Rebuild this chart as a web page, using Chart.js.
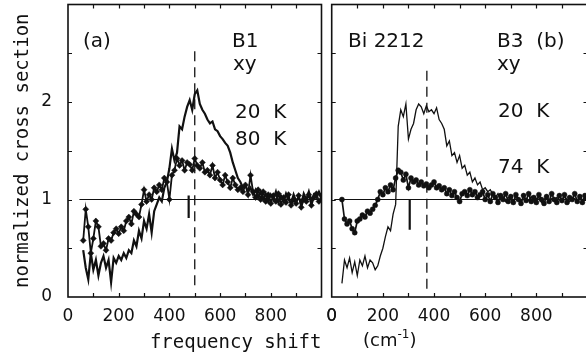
<!DOCTYPE html>
<html>
<head>
<meta charset="utf-8">
<script src="https://cdn.jsdelivr.net/npm/chart.js@4/dist/chart.umd.min.js"></script>
<style>
  html, body { margin: 0; padding: 0; background: #fff; width: 586px; height: 357px; overflow: hidden; }
  #wrap { position: relative; width: 586px; height: 357px; overflow: hidden; }
  canvas { position: absolute; top: 0; }
  #ca { left: 0px; }
  #cb { left: 326px; }
</style>
</head>
<body>
<div id="wrap">
  <canvas id="ca" width="326" height="357"></canvas>
  <canvas id="cb" width="266" height="357"></canvas>
</div>
<script>
// ---------- DATA ----------
// Panel (a): B1, xy, frequency shift (cm^-1)
const freqA = [60,70,80,90,100,110,120,130,140,150,
  160,170,180,190,200,210,220,230,240,250,
  260,270,280,290,300,310,320,330,340,350,
  360,370,380,390,400,410,420,430,440,450,
  460,470,480,490,500,510,520,530,540,550,
  560,570,580,590,600,610,620,630,640,650,
  660,670,680,690,700,710,720,730,740,750,
  760,770,780,790,800,810,820,830,840,850,
  860,870,880,890,900,910,920,930,940,950,
  960,970,980,990,1000];
const a20K = [0.48,0.30,0.18,0.45,0.28,0.38,0.22,0.35,0.42,0.30,
  0.38,0.15,0.40,0.35,0.42,0.38,0.45,0.40,0.48,0.45,
  0.58,0.52,0.68,0.60,0.78,0.70,0.85,0.66,0.88,0.95,
  1.02,0.98,1.12,1.18,1.32,1.52,1.40,1.48,1.75,1.72,
  1.85,1.95,2.02,1.92,2.08,2.12,1.98,1.92,1.88,1.82,
  1.78,1.80,1.72,1.70,1.65,1.62,1.58,1.55,1.48,1.38,
  1.30,1.22,1.18,1.12,1.15,1.08,1.12,1.05,1.10,1.02,
  1.08,1.00,1.06,0.98,1.05,1.00,1.08,0.97,1.04,0.98,
  1.06,1.00,0.96,1.05,0.98,1.03,0.95,1.06,1.00,1.08,
  0.98,1.05,1.02,1.08,1.02];
const a80K = [0.58,0.90,0.72,0.45,0.60,0.78,0.72,0.52,0.55,0.48,
  0.60,0.58,0.66,0.70,0.65,0.72,0.68,0.78,0.82,0.75,
  0.88,0.85,0.82,0.95,1.10,0.98,1.05,1.00,1.12,1.08,
  1.15,1.10,1.22,1.18,1.00,1.25,1.30,1.42,1.35,1.40,
  1.30,1.38,1.36,1.30,1.42,1.35,1.32,1.38,1.28,1.30,
  1.25,1.35,1.22,1.28,1.20,1.15,1.25,1.18,1.12,1.22,
  1.15,1.10,1.12,1.08,1.15,1.05,1.25,1.08,1.02,1.10,
  1.00,1.08,0.98,1.05,0.96,1.04,0.98,1.06,0.95,1.02,
  0.97,1.05,0.94,1.00,0.96,1.04,0.92,1.00,0.98,1.05,
  0.94,1.02,1.06,0.98,1.04];

// Panel (b): Bi 2212, B3, xy
const freqB = [40,50,60,70,80,90,100,110,120,130,
  140,150,160,170,180,190,200,210,220,230,
  240,250,260,270,280,290,300,310,320,330,
  340,350,360,370,380,390,400,410,420,430,
  440,450,460,470,480,490,500,510,520,530,
  540,550,560,570,580,590,600,610,620,630,
  640,650,660,670,680,690,700,710,720,730,
  740,750,760,770,780,790,800,810,820,830,
  840,850,860,870,880,890,900,910,920,930,
  940,950,960,970,980,990,1000];
const b20K = [0.14,0.38,0.30,0.40,0.25,0.36,0.22,0.38,0.32,0.42,
  0.30,0.38,0.35,0.28,0.32,0.42,0.50,0.62,0.72,0.68,
  0.85,0.95,1.75,1.92,1.85,1.98,1.62,1.72,1.78,1.92,
  1.98,1.95,1.88,1.96,1.90,1.92,1.88,1.94,1.82,1.78,
  1.72,1.55,1.60,1.45,1.48,1.38,1.45,1.32,1.35,1.25,
  1.28,1.18,1.22,1.15,1.18,1.10,1.12,1.08,1.10,1.05,
  1.02,1.06,1.00,1.03,0.98,1.02,1.00,0.97,1.03,1.01,
  0.98,1.02,1.00,0.99,1.03,0.98,1.01,1.02,0.97,1.00,
  1.03,0.99,1.01,0.98,1.02,1.00,0.97,1.03,1.00,0.98,
  1.02,1.01,0.99,1.02,1.00,1.01,0.98];
const b74K = [1.00,0.80,0.75,0.78,0.70,0.66,0.78,0.80,0.84,0.82,
  0.88,0.86,0.90,0.94,1.00,1.08,1.05,1.12,1.08,1.15,
  1.10,1.22,1.30,1.28,1.20,1.26,1.12,1.22,1.18,1.20,
  1.15,1.18,1.14,1.16,1.12,1.15,1.18,1.12,1.14,1.10,
  1.12,1.06,1.10,1.04,1.08,1.02,0.98,1.06,1.08,1.04,
  1.10,1.05,1.08,1.02,1.05,1.08,1.00,1.05,0.98,1.06,
  1.02,0.97,1.04,1.00,1.06,0.98,1.03,0.97,1.05,1.00,
  0.96,1.04,0.99,1.06,0.98,1.02,0.97,1.05,1.00,0.96,
  1.03,0.98,1.06,1.00,0.97,1.04,0.99,1.05,0.97,1.02,
  1.00,1.06,0.98,1.03,0.97,1.04,1.01];

// reference marks (frequency / level values)
const peakA = 500, peakB = 372;          // dashed lines
const gapA = 476, gapB = 305;            // short solid bars
const unityLevel = 1;
const xTickLabels = [0, 200, 400, 600, 800];
const yTickLabels = [0, 1, 2];

// ---------- HELPERS ----------
const pts = (xs, ys) => xs.map((x, i) => ({ x: x, y: ys[i] }));
const BLACK = '#111';

const framePlugin = {
  id: 'frame',
  afterDatasetsDraw(chart) {
    const { ctx, chartArea: ca, scales } = chart;
    ctx.save();
    ctx.strokeStyle = BLACK;
    ctx.lineWidth = 1.6;
    ctx.strokeRect(ca.left, ca.top, ca.right - ca.left, ca.bottom - ca.top);
    ctx.lineWidth = 1.2;
    const tl = 4;
    scales.x.ticks.forEach(t => {
      if (t.value <= scales.x.min || t.value >= scales.x.max) return;
      const px = Math.round(scales.x.getPixelForValue(t.value)) + 0.5;
      ctx.beginPath();
      ctx.moveTo(px, ca.bottom); ctx.lineTo(px, ca.bottom - tl);
      ctx.moveTo(px, ca.top); ctx.lineTo(px, ca.top + tl);
      ctx.stroke();
    });
    scales.y.ticks.forEach(t => {
      if (t.value <= scales.y.min || t.value >= scales.y.max) return;
      const py = Math.round(scales.y.getPixelForValue(t.value)) + 0.5;
      ctx.beginPath();
      ctx.moveTo(ca.left, py); ctx.lineTo(ca.left + tl, py);
      ctx.moveTo(ca.right, py); ctx.lineTo(ca.right - tl, py);
      ctx.stroke();
    });
    ctx.restore();
  }
};

// re-draws the first x tick label of a scale from the scale's own label item (edge label)
const edgeLabelPlugin = {
  id: 'edgeLabel',
  afterDraw(chart) {
    const xs = chart.scales.x;
    const items = xs.getLabelItems();
    if (!items.length) return;
    const it = items[0];
    if (!it.label) return;
    const ctx = chart.ctx;
    ctx.save();
    ctx.fillStyle = BLACK;
    ctx.font = it.font.string;
    ctx.textAlign = 'center';
    ctx.textBaseline = it.options.textBaseline || 'middle';
    const off = (typeof it.textOffset === 'number') ? it.textOffset : it.font.lineHeight / 2;
    ctx.fillText(String(it.label), xs.getPixelForValue(xs.ticks[0].value), it.options.translation[1] + off);
    ctx.restore();
  }
};

// text runs: each item is a list of [text, font, dy] pieces drawn one after another
function textPlugin(items) {
  return {
    id: 'texts',
    afterDraw(chart) {
      const ctx = chart.ctx;
      ctx.save();
      ctx.fillStyle = BLACK;
      ctx.textBaseline = 'alphabetic';
      ctx.textAlign = 'left';
      items.forEach(it => {
        let x = it.x;
        const runs = it.runs || [[it.t, it.font || '20px "DejaVu Sans"', 0]];
        runs.forEach(([s, f, dy]) => {
          ctx.font = f;
          ctx.fillText(s, x, it.y + dy);
          x += ctx.measureText(s).width;
        });
      });
      ctx.restore();
    }
  };
}

function xScale(title) {
  return {
    type: 'linear', min: 0, max: 1000,
    grid: { display: false, drawTicks: false },
    border: { display: false },
    afterFit(s) { s.height = 60; s.paddingLeft = 0; s.paddingRight = 0; },
    ticks: {
      stepSize: 100, autoSkip: false, maxRotation: 0, padding: 9,
      color: BLACK, font: { family: 'DejaVu Sans', size: 17 },
      callback: v => (xTickLabels.includes(v) ? String(v) : '')
    },
    title: title
  };
}

const baseOptions = (padRight) => ({
  responsive: false,
  animation: false,
  devicePixelRatio: 1,
  layout: { padding: { left: 0, right: padRight, top: 3, bottom: 0 } },
  plugins: { legend: { display: false }, tooltip: { enabled: false } },
  elements: { line: { tension: 0 } }
});

// ---------- PANEL (a) ----------
const optA = baseOptions(3);
optA.scales = {
  x: xScale({ display: true, text: 'frequency shift', align: 'end', color: BLACK,
    font: { family: 'DejaVu Sans Mono', size: 19 }, padding: { top: 4, bottom: 3 } }),
  y: {
    min: 0, max: 3,
    grid: { display: false, drawTicks: false },
    border: { display: false },
    afterFit(s) { s.width = 68; s.paddingTop = 0; s.paddingBottom = 0; },
    ticks: {
      stepSize: 0.5, autoSkip: false, padding: 16,
      color: BLACK, font: { family: 'DejaVu Sans', size: 17 },
      callback: v => (yTickLabels.includes(v) ? String(v) : '')
    },
    title: { display: true, text: 'normalized cross section', color: BLACK,
      font: { family: 'DejaVu Sans Mono', size: 19 }, padding: { top: 12, bottom: 0 } }
  }
};
new Chart(document.getElementById('ca'), {
  type: 'line',
  data: {
    datasets: [
      { data: [{ x: 45, y: unityLevel }, { x: 1000, y: unityLevel }], borderColor: BLACK, borderWidth: 1, pointRadius: 0 },
      { data: [{ x: peakA, y: 2.52 }, { x: peakA, y: 0.07 }], borderColor: BLACK, borderWidth: 1.3, borderDash: [10, 6], pointRadius: 0 },
      { data: [{ x: gapA, y: 1.04 }, { x: gapA, y: 0.81 }], borderColor: BLACK, borderWidth: 2.2, pointRadius: 0 },
      { label: '20 K', data: pts(freqA, a20K), borderColor: BLACK, borderWidth: 2.2, pointRadius: 0 },
      { label: '80 K', data: pts(freqA, a80K), borderColor: BLACK, borderWidth: 1.8,
        pointStyle: 'rectRot', pointRadius: 3, pointBackgroundColor: BLACK, pointBorderColor: BLACK, pointBorderWidth: 0.5 }
    ]
  },
  options: optA,
  plugins: [framePlugin, textPlugin([
    { t: '(a)', x: 83, y: 47 },
    { t: 'B1', x: 232, y: 47 },
    { t: 'xy', x: 233, y: 70 },
    { t: '20  K', x: 235, y: 118 },
    { t: '80  K', x: 235, y: 145 }
  ])]
});

// ---------- PANEL (b) ----------
const optB = baseOptions(3);
optB.scales = {
  x: xScale({ display: false }),
  y: {
    min: 0, max: 3,
    grid: { display: false, drawTicks: false },
    border: { display: false },
    afterFit(s) { s.width = 5.7; s.paddingTop = 0; s.paddingBottom = 0; },
    ticks: { stepSize: 0.5, callback: () => '' }
  }
};
new Chart(document.getElementById('cb'), {
  type: 'line',
  data: {
    datasets: [
      { data: [{ x: 10, y: unityLevel }, { x: 1000, y: unityLevel }], borderColor: BLACK, borderWidth: 1, pointRadius: 0 },
      { data: [{ x: peakB, y: 2.32 }, { x: peakB, y: 0.07 }], borderColor: BLACK, borderWidth: 1.3, borderDash: [10, 6], pointRadius: 0 },
      { data: [{ x: gapB, y: 1.0 }, { x: gapB, y: 0.69 }], borderColor: BLACK, borderWidth: 2.2, pointRadius: 0 },
      { label: '20 K', data: pts(freqB, b20K), borderColor: BLACK, borderWidth: 1.3, pointRadius: 0 },
      { label: '74 K', data: pts(freqB, b74K), borderColor: BLACK, borderWidth: 1.7,
        pointStyle: 'circle', pointRadius: 2.5, pointBackgroundColor: BLACK, pointBorderColor: BLACK, pointBorderWidth: 0.5 }
    ]
  },
  options: optB,
  plugins: [framePlugin, edgeLabelPlugin, textPlugin([
    { t: 'Bi 2212', x: 22, y: 47 },
    { t: 'B3  (b)', x: 171, y: 47 },
    { t: 'xy', x: 171, y: 70 },
    { t: '20  K', x: 172, y: 117 },
    { t: '74  K', x: 172, y: 173 },
    { x: 37, y: 346, runs: [['(cm', '18px "DejaVu Sans"', 0], ['-1', '12px "DejaVu Sans"', -8], [')', '18px "DejaVu Sans"', 0]] }
  ])]
});
</script>
</body>
</html>
